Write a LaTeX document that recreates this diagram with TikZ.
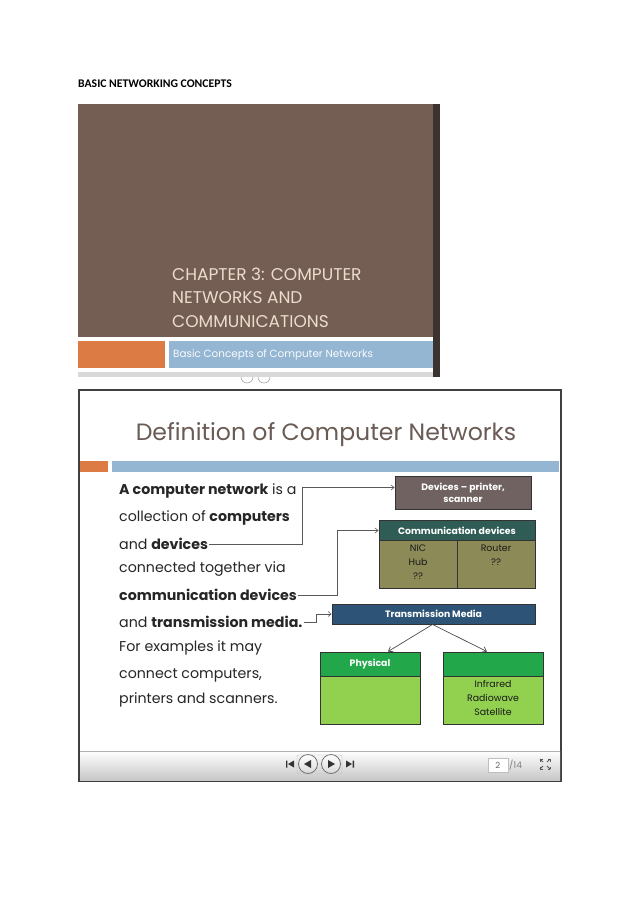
\documentclass[tikz,border=0pt]{standalone}
\usepackage{fontspec}
\setmainfont{Carlito}
\newfontfamily\slidefont{Poppins}
\usetikzlibrary{arrows.meta,positioning,calc}
\definecolor{slidebrown}{HTML}{745E54}
\definecolor{darkedge}{HTML}{3B3330}
\definecolor{accentorange}{HTML}{DD7B45}
\definecolor{accentblue}{HTML}{94B6D3}
\definecolor{titlebeige}{HTML}{EBDCCB}
\definecolor{titlegray}{HTML}{6A5B55}
\definecolor{devbrown}{HTML}{6F6260}
\definecolor{commteal}{HTML}{2F5D55}
\definecolor{commolive}{HTML}{8C8B58}
\definecolor{mediablue}{HTML}{2D5377}
\definecolor{darkgreen}{HTML}{22A84A}
\definecolor{lightgreen}{HTML}{92D050}
\tikzset{
  bodytext/.style={anchor=west,inner sep=1pt,text=black!85,font=\slidefont\fontsize{14.2}{16}\selectfont},
  boxbase/.style={draw=black!80,line width=.9pt,inner sep=1pt,align=center,font=\slidefont\bfseries\fontsize{9.3}{12}\selectfont},
  devbox/.style={boxbase,fill=devbrown,text=white,minimum width=136pt,minimum height=33pt},
  headbox/.style={boxbase,text=white,minimum height=20pt},
  cellbox/.style={boxbase,minimum height=48pt},
  celltext/.style={anchor=north,inner sep=0pt,align=center,text=black!90,font=\slidefont\fontsize{9.4}{14}\selectfont},
  link/.style={-{Straight Barb[length=3pt,width=5pt]},line width=.6pt,draw=black!65},
  branch/.style={-{Straight Barb[length=4pt,width=6pt]},line width=.7pt,draw=black!70},
}
\begin{document}
\begin{tikzpicture}[x=1pt,y=-1pt]
  \useasboundingbox[fill=white] (0,0) rectangle (638,902);
  \node[anchor=west,inner sep=0pt,font=\bfseries\fontsize{11.7}{13}\selectfont] (pagehead) at (78,84) {BASIC NETWORKING CONCEPTS};
  % first slide
  \fill[slidebrown] (78,104) rectangle (433,337);
  \fill[accentorange] (78,341) rectangle (165,368);
  \fill[accentblue] (169,341) rectangle (433,368);
  \fill[black!15] (78,372) rectangle (433,377);
  \draw[black!35,line width=.6pt] (241,377) arc (180:0:6) (258,377) arc (180:0:6);
  \fill[darkedge] (433,104) rectangle (440,377);
  \node[anchor=west,inner sep=0pt,align=left,text=titlebeige,font=\slidefont\fontsize{17}{23.5}\selectfont] (chapter) at (172,297.5)
    {CHAPTER 3: COMPUTER\\NETWORKS AND\\COMMUNICATIONS};
  \node[anchor=west,inner sep=0pt,text=white!95!accentblue,font=\slidefont\fontsize{10.4}{11}\selectfont] (subtitle) at (173,355) {Basic Concepts of Computer Networks};
  % second slide
  \draw[black!75,line width=2pt,fill=white] (79,390) rectangle (561,781);
  \node[text=titlegray,inner sep=0pt,font=\slidefont\fontsize{23.6}{26}\selectfont] (deftitle) at (326,435) {Definition of Computer Networks};
  \fill[accentorange] (80,461) rectangle (108,472);
  \fill[accentblue] (112,461) rectangle (559,472);
  \foreach \yy/\txt [count=\i] in {
      491/{\textbf{A computer network} is a},
      518/{collection of \textbf{computers}},
      544/{and \textbf{devices}},
      569/{connected together via},
      595/{\textbf{communication devices}},
      622/{and \textbf{transmission media.}},
      648/{For examples it may},
      675/{connect computers,},
      700/{printers and scanners.}}{
    \node[bodytext] (t\i) at (118,\yy) {\txt};
  }
  \node[devbox] (dev) at (463,492.5) {Devices – printer,\\scanner};
  \node[headbox,fill=commteal,minimum width=156pt] (commhd) at (457,530.5) {Communication devices};
  \node[cellbox,fill=commolive,minimum width=78pt] (commL) at (418,564) {};
  \node[cellbox,fill=commolive,minimum width=78pt] (commR) at (496,564) {};
  \node[celltext] (commLtx) at (418,544.5) {NIC\\Hub\\??};
  \node[celltext] (commRtx) at (496,544.5) {Router\\??};
  \node[headbox,fill=mediablue,minimum width=203pt] (media) at (433.5,614) {Transmission Media};
  \node[headbox,fill=darkgreen,minimum width=100pt,minimum height=24pt] (physhd) at (370,664) {Physical};
  \node[cellbox,fill=lightgreen,minimum width=100pt] (physbd) at (370,700) {};
  \node[headbox,fill=darkgreen,minimum width=100pt,minimum height=24pt] (wlhd) at (493,664) {};
  \node[cellbox,fill=lightgreen,minimum width=100pt] (wlbd) at (493,700) {};
  \node[celltext] (wltx) at (493,680.5) {Infrared\\Radiowave\\Satellite};
  % connectors
  \coordinate (k1) at (302,544);
  \coordinate (k2) at (337,595);
  \coordinate (k3) at (316,622);
  \draw[link] (t3.east) -- (k1) |- ([yshift=5pt]dev.west);
  \draw[link] (t5.east) -- (k2) |- (commhd.west);
  \draw[link] (t6.east) -- (k3) |- (media.west);
  \draw[branch] ([xshift=-1pt]media.south) -- ([xshift=18pt]physhd.north);
  \draw[branch] ([xshift=-1pt]media.south) -- ([xshift=-6pt]wlhd.north);
  % player bar
  \shade[top color=white,bottom color=black!22] (80,751) rectangle (560,780);
  \draw[black!30] (80,751) -- (560,751);
  \draw[black!25,rounded corners=2pt] (297,755) rectangle (342,774);
  \foreach \cx/\nm in {308/back,331/fwd}{
    \node[circle,draw=black!55,line width=.8pt,top color=white,bottom color=black!15,minimum size=19pt,inner sep=0pt] (\nm) at (\cx,764) {};
  }
  \fill[black!80] (304,764) -- (311,760) -- (311,768) -- cycle;
  \fill[black!80] (335,764) -- (328,760) -- (328,768) -- cycle;
  \fill[black!80] (286,760.5) rectangle (287.4,767.5) (294,760.5) -- (288,764) -- (294,767.5) -- cycle;
  \fill[black!80] (354,760.5) rectangle (352.6,767.5) (346,760.5) -- (352,764) -- (346,767.5) -- cycle;
  \node[draw=black!25,fill=white,minimum width=20pt,minimum height=14pt,inner sep=1pt,anchor=east,font=\slidefont\fontsize{8.5}{9}\selectfont,text=black!60,align=right] (pagebox) at (508,765) {\hfill 2};
  \node[anchor=west,inner sep=1pt,text=black!50,font=\slidefont\fontsize{9}{10}\selectfont] (pagecount) at (pagebox.east) {/14};
  \foreach \sx/\sy in {1/1,-1/1,1/-1,-1/-1}{
    \draw[black!65,line width=.9pt] ($(545,764)+(\sx*2,\sy*2)$) -- ++(\sx*3,\sy*3);
    \draw[black!65,line width=.9pt] ($(545,764)+(\sx*5,\sy*5)$) -- ++(-\sx*2.5,0) ($(545,764)+(\sx*5,\sy*5)$) -- ++(0,-\sy*2.5);
  }
\end{tikzpicture}
\end{document}
